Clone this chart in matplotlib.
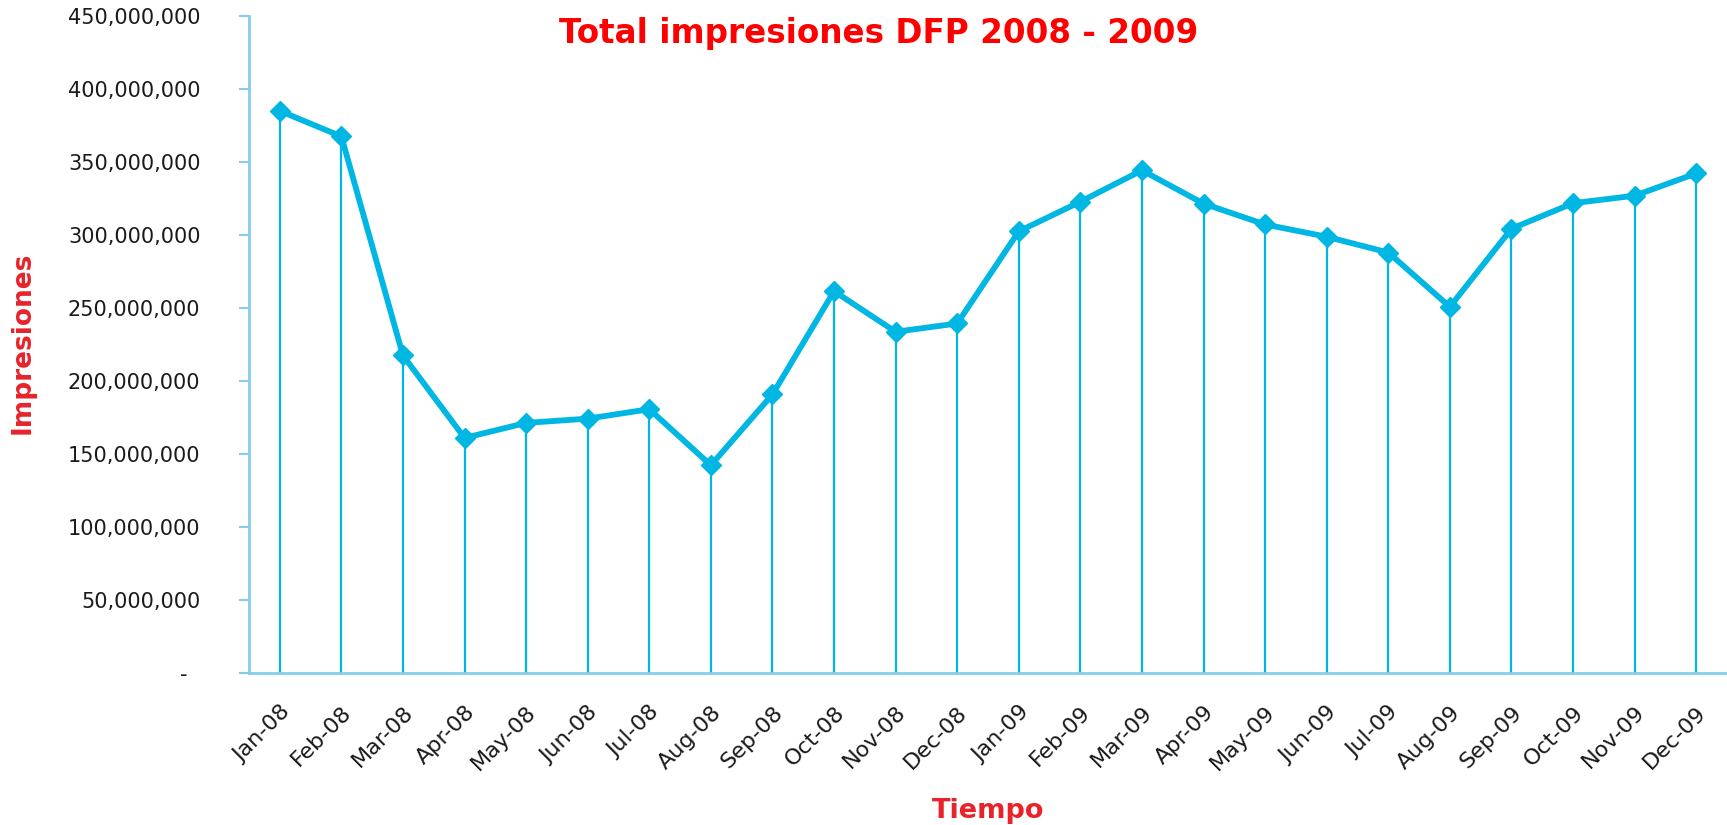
import matplotlib
matplotlib.use("Agg")
import matplotlib.pyplot as plt
from matplotlib.ticker import FuncFormatter, MultipleLocator
from matplotlib.transforms import ScaledTranslation

months = ["Jan-08", "Feb-08", "Mar-08", "Apr-08", "May-08", "Jun-08",
          "Jul-08", "Aug-08", "Sep-08", "Oct-08", "Nov-08", "Dec-08",
          "Jan-09", "Feb-09", "Mar-09", "Apr-09", "May-09", "Jun-09",
          "Jul-09", "Aug-09", "Sep-09", "Oct-09", "Nov-09", "Dec-09"]
impresiones = [385e6, 367.5e6, 217.5e6, 161e6, 171.3e6, 174.2e6,
               180.7e6, 142.3e6, 190.8e6, 261.5e6, 233.7e6, 239.4e6,
               302.5e6, 322.8e6, 344.3e6, 321.5e6, 307.2e6, 298.8e6,
               288e6, 250.8e6, 304.3e6, 321.8e6, 326.9e6, 342.2e6]

title = "Total impresiones DFP 2008 - 2009"
xlabel = "Tiempo"
ylabel = "Impresiones"

line_color = "#00B7E3"
spine_color = "#86CDEB"
label_red = "#E8232A"

plt.rcParams['font.family'] = ['DejaVu Sans']

fig = plt.figure(figsize=(17.27, 8.25), dpi=100)
ax = fig.add_axes([249 / 1727, 1 - 673 / 825, 1 - 249 / 1727, (673 - 16) / 825])

x = list(range(len(months)))
ax.vlines(x, 0, impresiones, colors=line_color, linewidth=1.6, zorder=2)
ax.plot(x, impresiones, color=line_color, linewidth=4.2, marker='D',
        markersize=10, markerfacecolor=line_color, markeredgecolor=line_color,
        zorder=3, clip_on=False)

ax.set_xlim(-0.5, len(months) - 0.5)
ax.set_ylim(0, 450e6)
ax.yaxis.set_major_locator(MultipleLocator(50e6))
ax.yaxis.set_major_formatter(FuncFormatter(
    lambda v, p: "-  " if v == 0 else f"{int(round(v)):,}"))

ax.set_xticks(x)
ax.set_xticklabels(months, rotation=45, ha='right', rotation_mode='anchor')
offset = ScaledTranslation(-4 / 100, 0, fig.dpi_scale_trans)
for lbl in ax.get_xticklabels():
    lbl.set_transform(lbl.get_transform() + offset)

for s in ["top", "right"]:
    ax.spines[s].set_visible(False)
for s in ["left", "bottom"]:
    ax.spines[s].set_color(spine_color)
    ax.spines[s].set_linewidth(2)

ax.tick_params(axis='y', direction='out', length=7, width=1.5,
               color=spine_color, pad=28, labelsize=15, labelcolor='#1a1a1a')
ax.tick_params(axis='x', length=0, pad=21, labelsize=16, labelcolor='#1a1a1a')

fig.text(879 / 1727, 1 - 43 / 825, title, ha='center', va='baseline',
         fontsize=23.5, fontweight='bold', color='#FF0000')
fig.text(23 / 1727, 1 - 343 / 825, ylabel, ha='center', va='center',
         rotation=90, fontsize=19, fontweight='bold', color=label_red)
fig.text(988 / 1727, 1 - 818 / 825, xlabel, ha='center', va='baseline',
         fontsize=19.5, fontweight='bold', color=label_red)

fig.savefig("out.png", dpi=100, facecolor='white')
